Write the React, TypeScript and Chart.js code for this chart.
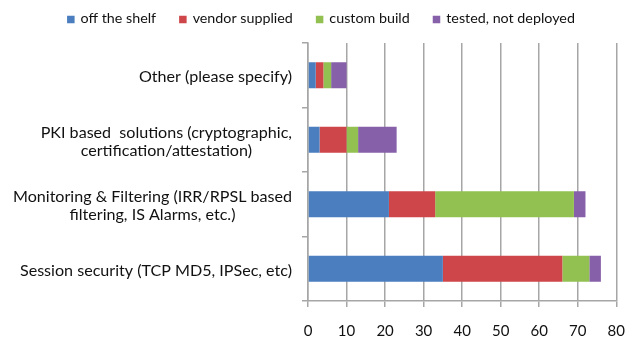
import React, { useEffect, useRef } from "react";
import { Chart, registerables } from "chart.js";

Chart.register(...registerables);

const categories: string[][] = [
  ["Other (please specify)"],
  ["PKI based  solutions (cryptographic,", "certification/attestation)"],
  ["Monitoring & Filtering (IRR/RPSL based", "filtering, IS Alarms, etc.)"],
  ["Session security (TCP MD5, IPSec, etc)"],
];
const seriesNames = ["off the shelf", "vendor supplied", "custom build", "tested, not deployed"];
const offTheShelf = [2, 3, 21, 35];
const vendorSupplied = [2, 7, 12, 31];
const customBuild = [2, 3, 36, 7];
const testedNotDeployed = [4, 10, 3, 3];
const seriesColors = ["#4A7EBE", "#CE4649", "#92C051", "#8660A8"];
const xTicks = [0, 10, 20, 30, 40, 50, 60, 70, 80];

const FONT = "Lato, 'Open Sans', sans-serif";

const drawPlugin = {
  id: "customText",
  afterDraw(chart: any) {
    const ctx = chart.ctx as CanvasRenderingContext2D;
    const y = chart.scales.y;
    const area = chart.chartArea;
    ctx.save();
    ctx.font = `16.1px ${FONT}`;
    ctx.fillStyle = "#111";
    ctx.textAlign = "center";
    ctx.textBaseline = "middle";
    categories.forEach((lines, i) => {
      const cy = y.getPixelForValue(i) + 2;
      const maxW = Math.max(...lines.map((l) => ctx.measureText(l).width));
      const cx = area.left - 16 - maxW / 2;
      const lh = 18;
      lines.forEach((l, j) => {
        ctx.fillText(l, cx, cy + (j - (lines.length - 1) / 2) * lh);
      });
    });
    // legend
    ctx.font = `14.3px ${FONT}`;
    ctx.textAlign = "left";
    const box = 7.5;
    const gapText = 6;
    const gapItem = 23;
    const widths = seriesNames.map((n) => box + gapText + ctx.measureText(n).width);
    const total = widths.reduce((a, b) => a + b, 0) + gapItem * (widths.length - 1);
    let x = 321 - total / 2;
    const ly = 19.5;
    seriesNames.forEach((n, i) => {
      ctx.fillStyle = seriesColors[i];
      ctx.fillRect(x, ly - box / 2, box, box);
      ctx.fillStyle = "#111";
      ctx.fillText(n, x + box + gapText, ly - 1);
      x += widths[i] + gapItem;
    });
    ctx.restore();
  },
};

export default function App() {
  const ref = useRef<HTMLCanvasElement>(null);
  useEffect(() => {
    if (!ref.current) return;
    const values = [offTheShelf, vendorSupplied, customBuild, testedNotDeployed];
    const chart = new Chart(ref.current, {
      type: "bar",
      data: {
        labels: categories.map((c) => c.join(" ")),
        datasets: seriesNames.map((name, i) => ({
          label: name,
          data: values[i],
          backgroundColor: seriesColors[i],
          borderWidth: 0,
          barPercentage: 0.4,
          categoryPercentage: 1.0,
        })),
      },
      options: {
        indexAxis: "y",
        responsive: false,
        animation: false,
        layout: { padding: { top: 43, right: 23, left: 0, bottom: 0 } },
        plugins: { legend: { display: false }, tooltip: { enabled: false } },
        scales: {
          x: {
            stacked: true,
            min: 0,
            max: 80,
            afterBuildTicks: (scale: any) => {
              scale.ticks = xTicks.map((v) => ({ value: v }));
            },
            afterFit: (scale: any) => {
              scale.height = 52;
            },
            grid: { color: "#A6A6A6", lineWidth: 1.5, tickLength: 6 },
            border: { color: "#A6A6A6", width: 1.5 },
            ticks: { font: { family: FONT, size: 15 }, color: "#111", padding: 15 },
          },
          y: {
            stacked: true,
            afterFit: (scale: any) => {
              scale.width = 308;
            },
            grid: { offset: true, drawOnChartArea: false, color: "#A6A6A6", lineWidth: 1.5, tickLength: 6 },
            border: { color: "#A6A6A6", width: 1.5 },
            ticks: { display: false },
          },
        },
      },
      plugins: [drawPlugin],
    });
    return () => chart.destroy();
  }, []);
  return (
    <div style={{ position: "fixed", left: 0, top: 0, width: 640, height: 353, background: "#fff" }}>
      <canvas ref={ref} width={640} height={353} />
    </div>
  );
}
